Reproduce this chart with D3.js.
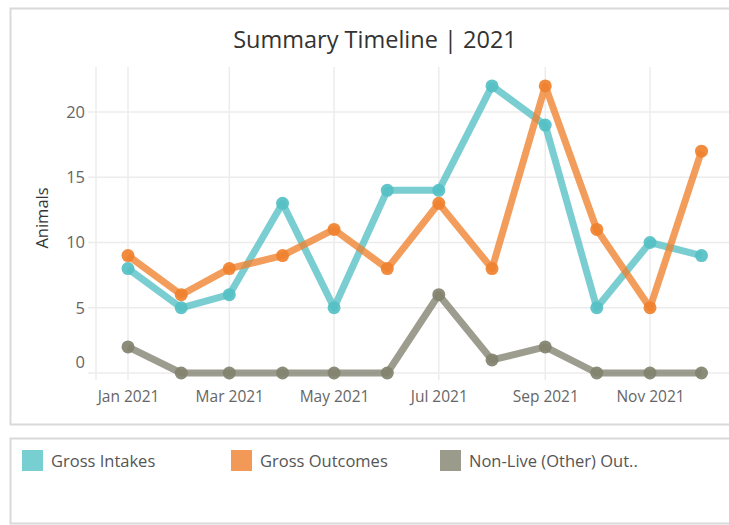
<!DOCTYPE html>
<html>
<head>
<meta charset="utf-8">
<script src="https://cdn.jsdelivr.net/npm/d3@7"></script>
<style>
  body { margin: 0; background: #fff; }
  svg { display: block; font-family: 'Open Sans', sans-serif; }
</style>
</head>
<body>
<div id="chart"></div>
<script>
const months = ['2021-01', '2021-02', '2021-03', '2021-04', '2021-05', '2021-06',
  '2021-07', '2021-08', '2021-09', '2021-10', '2021-11', '2021-12'];
const grossIntakes = [8, 5, 6, 13, 5, 14, 14, 22, 19, 5, 10, 9];
const grossOutcomes = [9, 6, 8, 9, 11, 8, 13, 8, 22, 11, 5, 17];
const nonLiveOther = [2, 0, 0, 0, 0, 0, 6, 1, 2, 0, 0, 0];
const seriesNames = ['Gross Intakes', 'Gross Outcomes', 'Non-Live (Other) Out..'];
const yTicks = [0, 5, 10, 15, 20];
const xTickMonths = ['2021-01', '2021-03', '2021-05', '2021-07', '2021-09', '2021-11'];

const lineColors = ['#54c0c4', '#f0812e', '#82826f'];
const swatchColors = ['#77cfd2', '#f39957', '#9b9b8b'];

const width = 729, height = 525;
const pane = { left: 96, right: 729, top: 67, bottom: 373 };

const parseMonth = d3.timeParse('%Y-%m');
const dates = months.map(parseMonth);

const series = [grossIntakes, grossOutcomes, nonLiveOther].map((vals, i) => ({
  name: seriesNames[i],
  color: lineColors[i],
  values: vals.map((v, j) => ({ date: dates[j], value: v }))
}));

const svg = d3.select('#chart').append('svg')
  .attr('width', width)
  .attr('height', height);

/* ---------- cards ---------- */
svg.append('rect')
  .attr('x', 10.5).attr('y', 8.5)
  .attr('width', 740).attr('height', 416)
  .attr('fill', '#fff').attr('stroke', '#d9d9d9').attr('stroke-width', 2);
svg.append('rect')
  .attr('x', 10.5).attr('y', 438.5)
  .attr('width', 740).attr('height', 85)
  .attr('fill', '#fff').attr('stroke', '#d9d9d9').attr('stroke-width', 2);

/* ---------- title ---------- */
svg.append('text')
  .attr('x', 375).attr('y', 48)
  .attr('text-anchor', 'middle')
  .attr('font-size', 23.5)
  .attr('fill', '#333')
  .text('Summary Timeline | 2021');

/* ---------- scales ---------- */
const xScale = d3.scaleTime()
  .domain([parseMonth('2021-01'), parseMonth('2021-11')])
  .range([128, 650]);
const yScale = d3.scaleLinear()
  .domain([0, 23.45])
  .range([pane.bottom, pane.top]);

/* ---------- grid ---------- */
const grid = svg.append('g').attr('class', 'grid');
grid.selectAll('.hgrid')
  .data(yTicks)
  .enter().append('line')
  .attr('x1', 88).attr('x2', pane.right)
  .attr('y1', d => yScale(d)).attr('y2', d => yScale(d))
  .attr('stroke', '#ececec').attr('stroke-width', 1.5);
grid.selectAll('.vgrid')
  .data(xTickMonths.map(parseMonth))
  .enter().append('line')
  .attr('x1', d => xScale(d)).attr('x2', d => xScale(d))
  .attr('y1', pane.top).attr('y2', pane.bottom + 7)
  .attr('stroke', '#ececec').attr('stroke-width', 1.5);
grid.append('line')
  .attr('x1', pane.left).attr('x2', pane.left)
  .attr('y1', pane.top).attr('y2', pane.bottom + 7)
  .attr('stroke', '#ececec').attr('stroke-width', 1.5);

/* ---------- axes ---------- */
const yAxis = svg.append('g')
  .attr('transform', 'translate(' + pane.left + ',0)')
  .call(d3.axisLeft(yScale).tickValues(yTicks).tickSize(0).tickPadding(11));
yAxis.select('.domain').remove();
yAxis.selectAll('text')
  .attr('font-size', 16.5)
  .attr('font-family', "'Open Sans', sans-serif")
  .attr('fill', '#666')
  .attr('dy', d => d === 0 ? '-0.35em' : '0.32em');

const xAxis = svg.append('g')
  .attr('transform', 'translate(0,' + pane.bottom + ')')
  .call(d3.axisBottom(xScale)
    .tickValues(xTickMonths.map(parseMonth))
    .tickFormat(d3.timeFormat('%b %Y'))
    .tickSize(0).tickPadding(18));
xAxis.select('.domain').remove();
xAxis.selectAll('text')
  .attr('font-size', 15.5)
  .attr('font-family', "'Open Sans', sans-serif")
  .attr('fill', '#666');

svg.append('text')
  .attr('transform', 'translate(48,218) rotate(-90)')
  .attr('text-anchor', 'middle')
  .attr('font-size', 16.5)
  .attr('fill', '#333')
  .text('Animals');

/* ---------- lines ---------- */
const line = d3.line()
  .x(d => xScale(d.date))
  .y(d => yScale(d.value));

const lineG = svg.append('g').attr('class', 'line-g');
series.forEach(s => {
  lineG.append('path')
    .datum(s.values)
    .attr('d', line)
    .attr('fill', 'none')
    .attr('stroke', s.color)
    .attr('stroke-opacity', 0.78)
    .attr('stroke-width', 7)
    .attr('stroke-linejoin', 'round');
  lineG.selectAll(null)
    .data(s.values)
    .enter().append('circle')
    .attr('cx', d => xScale(d.date))
    .attr('cy', d => yScale(d.value))
    .attr('r', 6.5)
    .attr('fill', s.color)
    .attr('fill-opacity', 0.92);
});

/* ---------- legend ---------- */
const legend = svg.append('g').attr('class', 'legend');
const legendX = d3.scalePoint().domain(seriesNames).range([22, 440]);
const item = legend.selectAll('g')
  .data(seriesNames)
  .enter().append('g')
  .attr('transform', d => 'translate(' + legendX(d) + ',450)');
item.append('rect')
  .attr('width', 21).attr('height', 21)
  .attr('fill', (d, i) => swatchColors[i]);
item.append('text')
  .attr('x', 29).attr('y', 16.5)
  .attr('font-size', 16.5)
  .attr('fill', '#555')
  .text(d => d);
</script>
</body>
</html>
